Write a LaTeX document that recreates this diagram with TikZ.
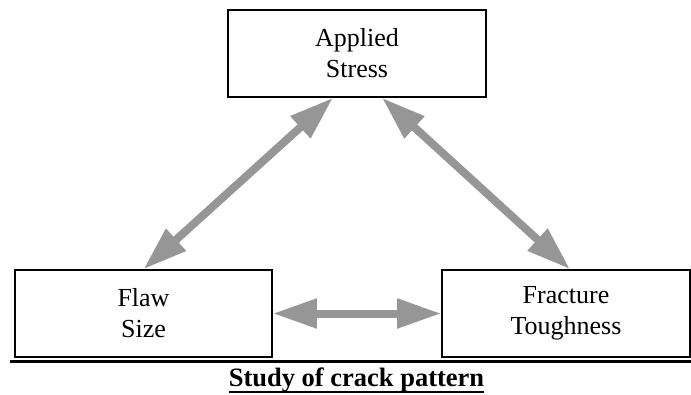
\documentclass[tikz,border=0pt]{standalone}
\usepackage{fontspec}
\setmainfont{Liberation Serif}
\usetikzlibrary{arrows.meta}
\definecolor{arrowgray}{RGB}{150,150,150}

\begin{document}
\begin{tikzpicture}[x=1pt,y=-1pt]
\useasboundingbox (0,0) rectangle (691,394);
\tikzstyle{box}=[rectangle,draw,line width=1.6pt,minimum height=87pt,
    align=center,inner sep=0pt,font=\fontsize{26}{31}\selectfont]
\tikzstyle{link}=[draw=arrowgray,line width=8pt,
    >={Triangle[length=44pt,width=28pt]},<->]

\node[box, minimum width=258pt] (stress) at (357,53.5) {Applied\\Stress};
\node[box, minimum width=257pt] (flaw) at (143.5,313.5) {Flaw\\Size};
\node[box, minimum width=248pt] (tough) at (566,313.5) {Fracture\\Toughness};

\draw[link] (flaw.north) -- ([xshift=-24pt]stress.south);
\draw[link] ([xshift=25pt]stress.south) -- ([xshift=4pt]tough.north);
\draw[link] (flaw.east) -- (tough.west);

\draw[line width=3pt] (10,361.5) -- (691,361.5);

\node[inner sep=0pt, anchor=base, font=\fontsize{26.5}{32}\selectfont\bfseries]
    (title) at (356.5,386) {Study of crack pattern};
\draw[line width=2pt] ([yshift=-6pt]title.base west) -- ([yshift=-6pt]title.base east);
\end{tikzpicture}
\end{document}
